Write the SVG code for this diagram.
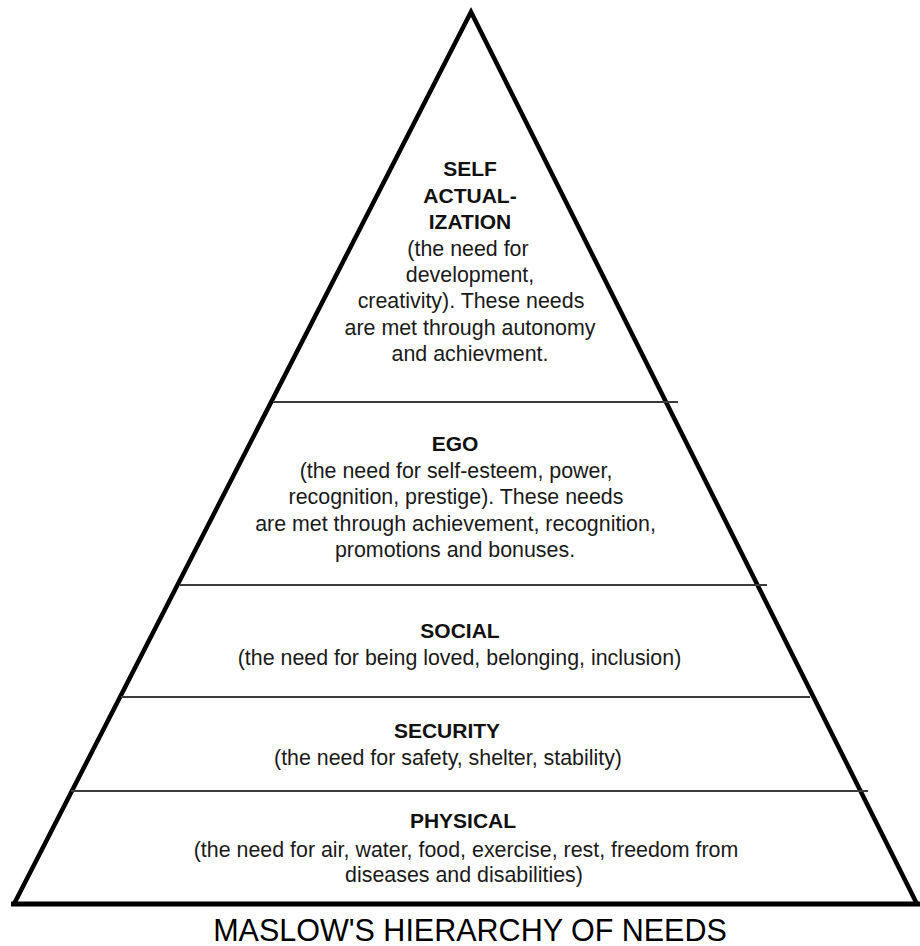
<svg xmlns="http://www.w3.org/2000/svg" width="920" height="946" viewBox="0 0 920 946">
<style>
  .outline { fill: none; stroke: #000; stroke-width: 4.5; stroke-linejoin: miter; }
  .div { stroke: #3a3a3a; stroke-width: 2; }
  text { font-family: "Liberation Sans", Arial, sans-serif; fill: #1a1a1a; text-anchor: middle; }
  .h { font-weight: bold; font-size: 21px; fill: #111; }
  .b { font-size: 21.4px; }
  .title { font-size: 30.5px; fill: #000; }
</style>
<rect width="920" height="946" fill="#fff"/>
<g id="pyramid">
  <path class="outline" d="M14,904 L471,12 L917,904"/>
  <line x1="11" y1="904" x2="920" y2="904" stroke="#000" stroke-width="5"/>
</g>
<g id="dividers">
  <line class="div" x1="273" y1="402" x2="678" y2="402"/>
  <line class="div" x1="180" y1="585" x2="767" y2="585"/>
  <line class="div" x1="121" y1="697" x2="810" y2="697"/>
  <line class="div" x1="71" y1="791" x2="868" y2="791"/>
</g>
<g id="self-actualization">
  <text class="h" x="470" y="176">SELF</text>
  <text class="h" x="470" y="203">ACTUAL-</text>
  <text class="h" x="470" y="229">IZATION</text>
  <text class="b" x="468" y="256">(the need for</text>
  <text class="b" x="470" y="282">development,</text>
  <text class="b" x="471" y="308">creativity). These needs</text>
  <text class="b" x="470" y="335">are met through autonomy</text>
  <text class="b" x="470" y="361">and achievment.</text>
</g>
<g id="ego">
  <text class="h" x="455" y="451">EGO</text>
  <text class="b" x="456" y="477.5">(the need for self-esteem, power,</text>
  <text class="b" x="456" y="504">recognition, prestige). These needs</text>
  <text class="b" x="455.5" y="530.5">are met through achievement, recognition,</text>
  <text class="b" x="455" y="557">promotions and bonuses.</text>
</g>
<g id="social">
  <text class="h" x="460" y="638">SOCIAL</text>
  <text class="b" x="459.5" y="665">(the need for being loved, belonging, inclusion)</text>
</g>
<g id="security">
  <text class="h" x="447" y="738">SECURITY</text>
  <text class="b" x="448" y="765">(the need for safety, shelter, stability)</text>
</g>
<g id="physical">
  <text class="h" x="463" y="828">PHYSICAL</text>
  <text class="b" x="466" y="857">(the need for air, water, food, exercise, rest, freedom from</text>
  <text class="b" x="464" y="882">diseases and disabilities)</text>
</g>
<text class="title" x="470" y="941">MASLOW'S HIERARCHY OF NEEDS</text>
</svg>
